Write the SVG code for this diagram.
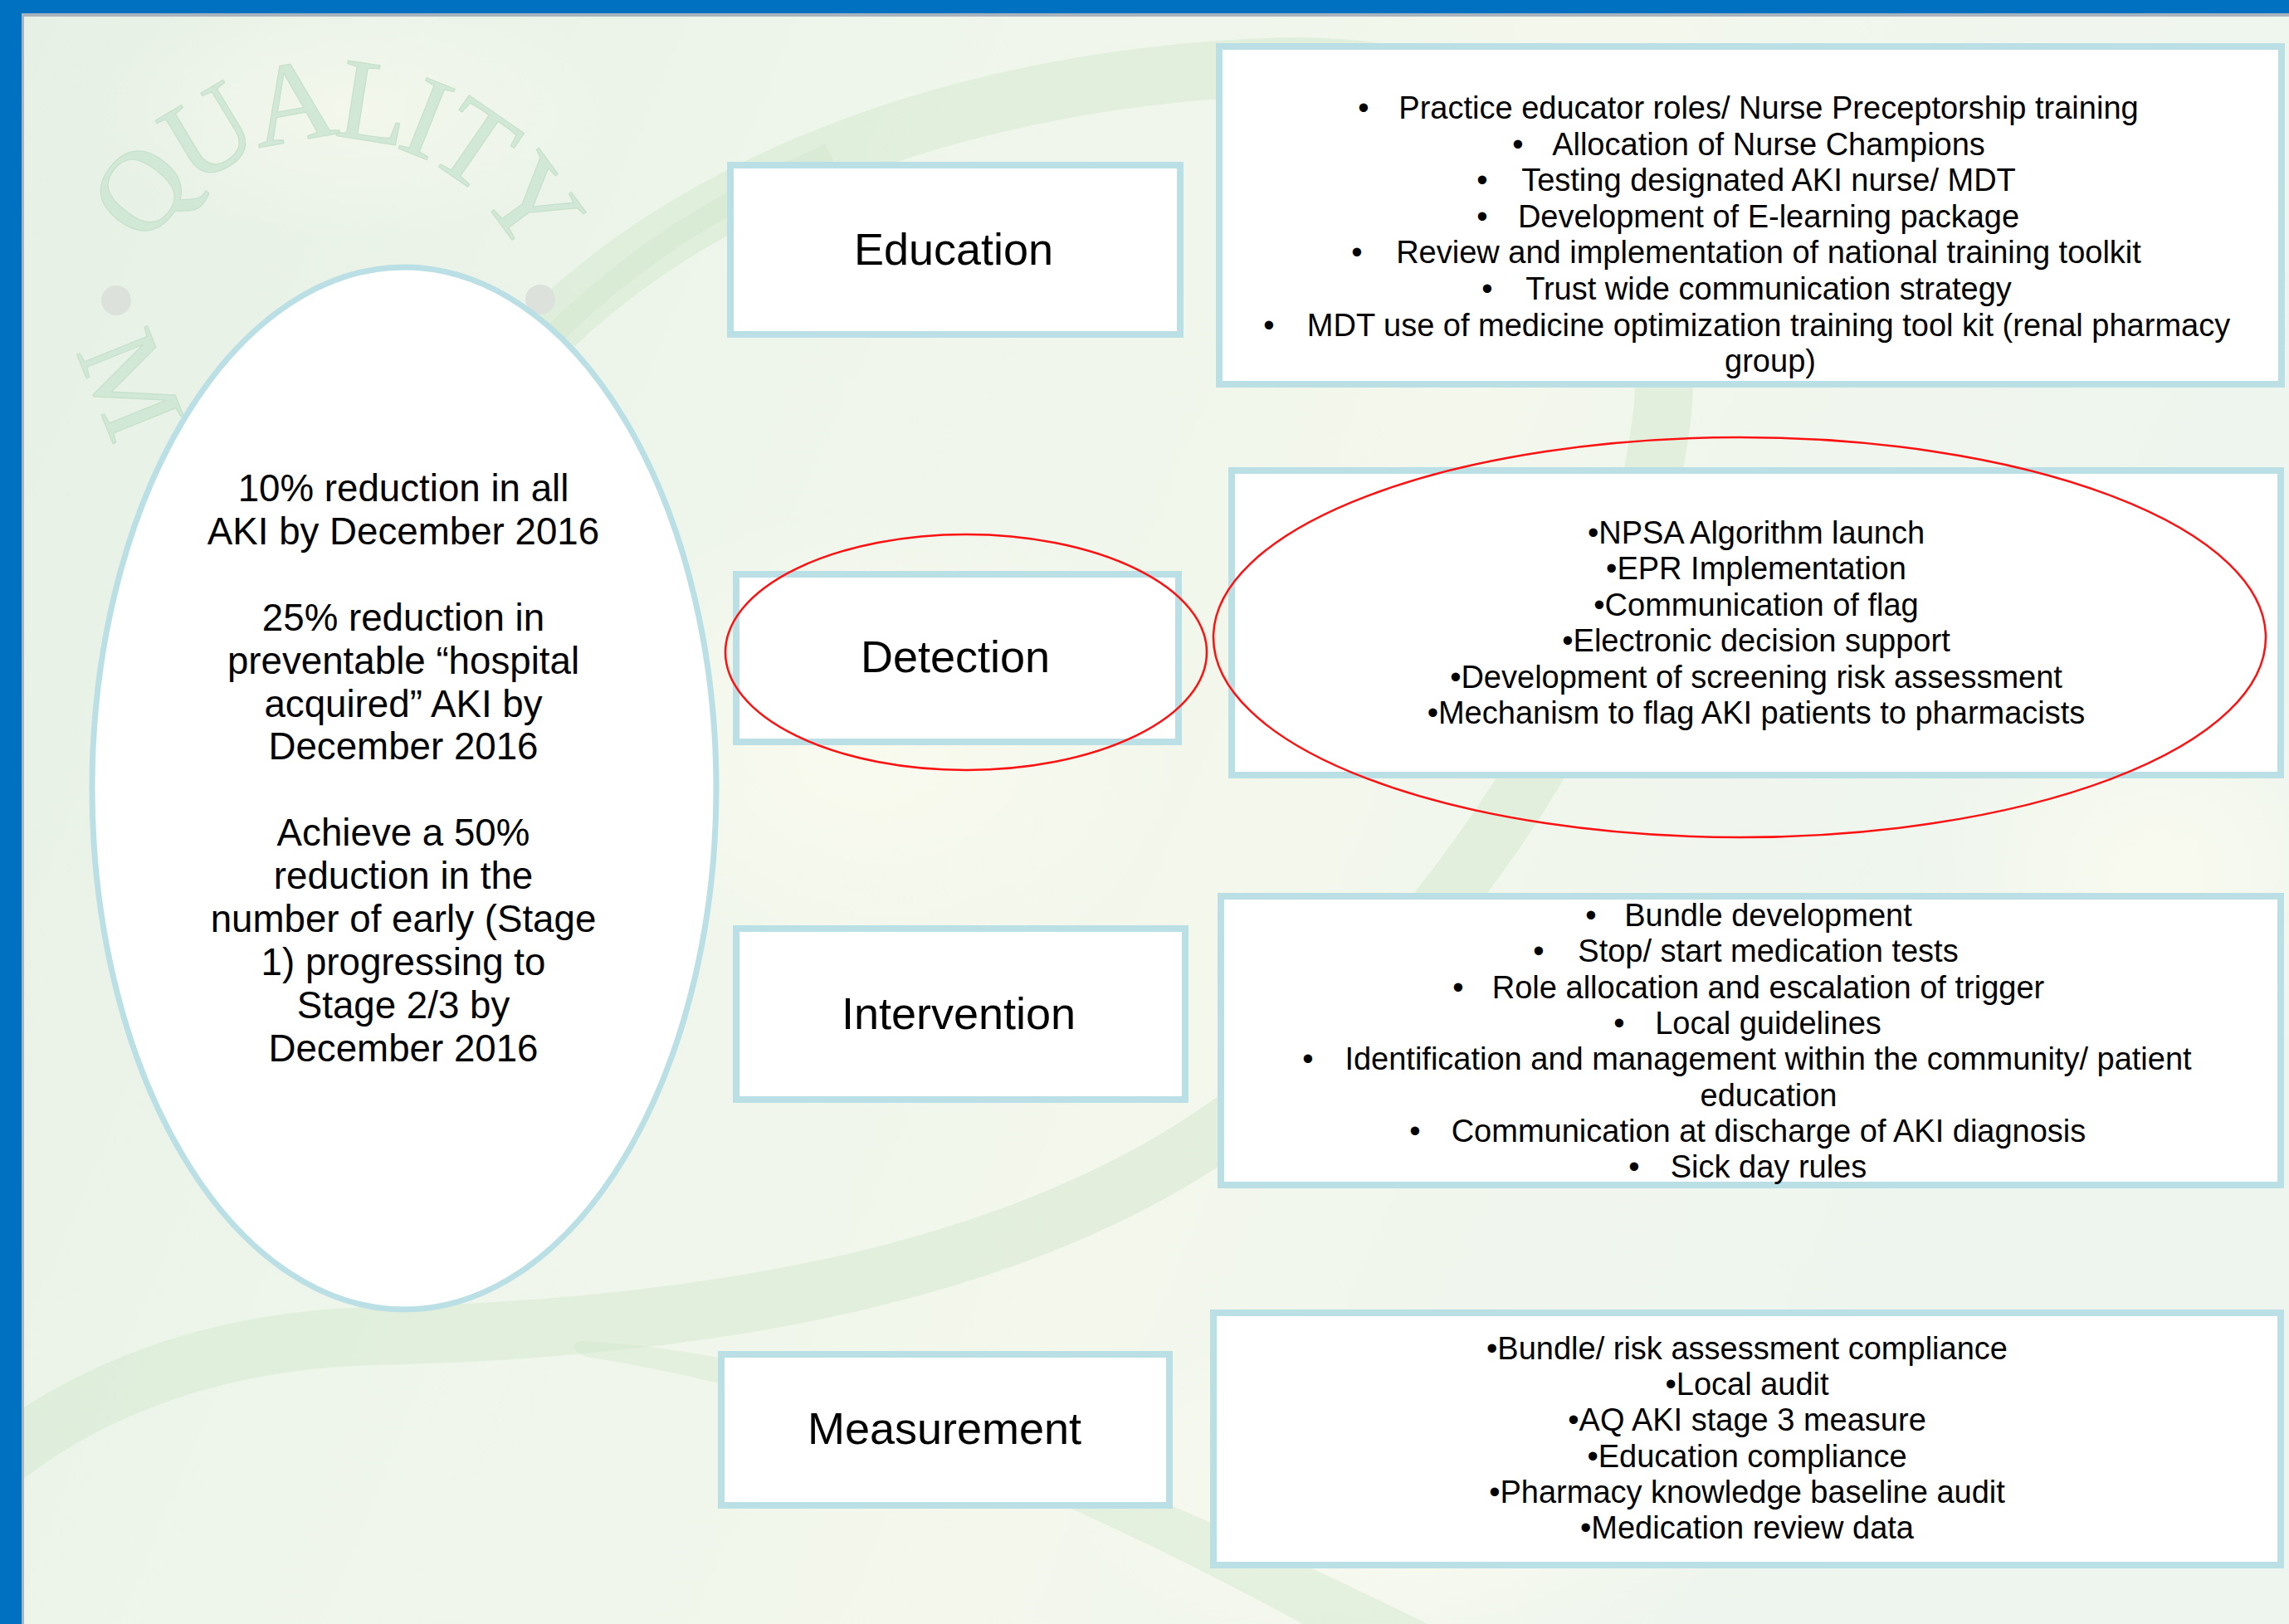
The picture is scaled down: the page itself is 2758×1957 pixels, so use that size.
<svg xmlns="http://www.w3.org/2000/svg" width="2758" height="1957" viewBox="0 0 2758 1957">
<defs>
<style>
.box{fill:#ffffff;stroke:#BADFE4;stroke-width:8}
.lbl{font-family:"Liberation Sans",Arial,sans-serif;font-size:54px;fill:#000;text-anchor:middle}
.dt{font-family:"Liberation Sans",Arial,sans-serif;font-size:38px;fill:#000;text-anchor:middle}
.goal{font-family:"Liberation Sans",Arial,sans-serif;font-size:45.7px;fill:#000;text-anchor:middle}
.red{fill:none;stroke:#FF1010;stroke-width:2.5}
.wm{font-family:"Liberation Serif","Times New Roman",serif;font-size:140px;fill:#D2E8D6;stroke:#C6E1CB;stroke-width:1.2}
.band{fill:none;stroke:#D6EAD0;stroke-linecap:butt}
</style>
<linearGradient id="bg" x1="0" y1="0" x2="1" y2="0.3">
<stop offset="0" stop-color="#E6F0E5"/>
<stop offset="0.35" stop-color="#EEF5EB"/>
<stop offset="0.65" stop-color="#F3F7EC"/>
<stop offset="1" stop-color="#EDF5EE"/>
</linearGradient>
<radialGradient id="hl" cx="0.5" cy="0.5" r="0.5">
<stop offset="0" stop-color="#FBFBEF" stop-opacity="0.9"/>
<stop offset="1" stop-color="#FBFBEF" stop-opacity="0"/>
</radialGradient>
<path id="arcQ" d="M 178.4 300.2 A 250 250 0 0 1 646.2 372.6"/>
</defs>

<g id="background">
<rect x="0" y="0" width="2758" height="1957" fill="url(#bg)"/>
<ellipse cx="1050" cy="900" rx="380" ry="300" fill="url(#hl)"/>
<ellipse cx="1700" cy="1800" rx="420" ry="220" fill="url(#hl)"/>
<ellipse cx="2600" cy="1050" rx="300" ry="260" fill="url(#hl)"/>
<ellipse cx="420" cy="130" rx="320" ry="160" fill="url(#hl)" opacity="0.6"/>
<path class="band" stroke-width="70" opacity="0.55" d="M 640 420 C 850 200, 1200 90, 1550 80 C 1850 75, 2040 250, 2000 520 C 1960 800, 1800 1050, 1550 1300 C 1300 1520, 900 1600, 450 1610 C 250 1615, 100 1680, 0 1760"/>
<path class="band" stroke-width="26" opacity="0.7" d="M 660 410 C 780 290, 900 230, 1000 185"/>
<path fill="#D6EAD0" opacity="0.5" d="M 700 1616 C 1000 1630, 1380 1790, 1720 1957 L 1570 1957 C 1300 1810, 1000 1680, 712 1636 C 690 1632, 686 1618, 700 1616 Z"/>
<text class="wm" letter-spacing="-10"><textPath href="#arcQ">QUALITY</textPath></text>
<text class="wm" x="0" y="45" text-anchor="middle" transform="translate(156,464) rotate(68)">M</text>
<circle cx="140" cy="362" r="18" fill="#DCE2DB"/>
<circle cx="651" cy="361" r="18" fill="#DCE2DB"/>
</g>

<g id="frame">
<rect x="0" y="0" width="2758" height="16" fill="#0070C0"/>
<rect x="0" y="0" width="26" height="1957" fill="#0070C0"/>
<rect x="26" y="16" width="2732" height="4" fill="#A9B3BC"/>
<rect x="26" y="16" width="3" height="1941" fill="#A9B3BC"/>
</g>

<g id="connectors"></g>

<g id="goal">
<ellipse cx="487" cy="950" rx="376" ry="628" fill="#ffffff" stroke="#BADFE4" stroke-width="7"/>
<text class="goal" x="486" y="604">10% reduction in all</text>
<text class="goal" x="486" y="655.9">AKI by December 2016</text>
<text class="goal" x="486" y="759.7">25% reduction in</text>
<text class="goal" x="486" y="811.6">preventable “hospital</text>
<text class="goal" x="486" y="863.5">acquired” AKI by</text>
<text class="goal" x="486" y="915.4">December 2016</text>
<text class="goal" x="486" y="1019.2">Achieve a 50%</text>
<text class="goal" x="486" y="1071.1">reduction in the</text>
<text class="goal" x="486" y="1123">number of early (Stage</text>
<text class="goal" x="486" y="1174.9">1) progressing to</text>
<text class="goal" x="486" y="1226.8">Stage 2/3 by</text>
<text class="goal" x="486" y="1278.7">December 2016</text>
</g>

<g id="education">
<rect class="box" x="880" y="199" width="542" height="204"/>
<text class="lbl" x="1149" y="319">Education</text>
</g>

<g id="education-detail">
<rect class="box" x="1469" y="56" width="1280" height="407"/>
<text class="dt" x="1643" y="143">•</text><text class="dt" x="2131" y="143">Practice educator roles/ Nurse Preceptorship training</text>
<text class="dt" x="1829" y="186.6">•</text><text class="dt" x="2131" y="186.6">Allocation of Nurse Champions</text>
<text class="dt" x="1786" y="230.2">•</text><text class="dt" x="2131" y="230.2">Testing designated AKI nurse/ MDT</text>
<text class="dt" x="1786" y="273.8">•</text><text class="dt" x="2131" y="273.8">Development of E-learning package</text>
<text class="dt" x="1635" y="317.4">•</text><text class="dt" x="2131" y="317.4">Review and implementation of national training toolkit</text>
<text class="dt" x="1792" y="361">•</text><text class="dt" x="2131" y="361">Trust wide communication strategy</text>
<text class="dt" x="1529" y="404.6">•</text><text class="dt" x="2131" y="404.6">MDT use of medicine optimization training tool kit (renal pharmacy</text>
<text class="dt" x="2133" y="448.2">group)</text>
</g>

<g id="detection">
<rect class="box" x="887" y="692" width="533" height="202"/>
<text class="lbl" x="1151" y="810">Detection</text>
</g>

<g id="detection-detail">
<rect class="box" x="1484" y="567" width="1264" height="367"/>
<text class="dt" x="2116" y="655">•NPSA Algorithm launch</text>
<text class="dt" x="2116" y="698.4">•EPR Implementation</text>
<text class="dt" x="2116" y="741.8">•Communication of flag</text>
<text class="dt" x="2116" y="785.2">•Electronic decision support</text>
<text class="dt" x="2116" y="828.6">•Development of screening risk assessment</text>
<text class="dt" x="2116" y="872">•Mechanism to flag AKI patients to pharmacists</text>
</g>

<g id="intervention">
<rect class="box" x="887" y="1119" width="541" height="206"/>
<text class="lbl" x="1155" y="1240">Intervention</text>
</g>

<g id="intervention-detail">
<rect class="box" x="1471" y="1080" width="1277" height="348"/>
<text class="dt" x="1917" y="1116">•</text><text class="dt" x="2130.5" y="1116">Bundle development</text>
<text class="dt" x="1854" y="1159.3">•</text><text class="dt" x="2130.5" y="1159.3">Stop/ start medication tests</text>
<text class="dt" x="1757" y="1202.6">•</text><text class="dt" x="2130.5" y="1202.6">Role allocation and escalation of trigger</text>
<text class="dt" x="1951" y="1245.9">•</text><text class="dt" x="2130.5" y="1245.9">Local guidelines</text>
<text class="dt" x="1576" y="1289.2">•</text><text class="dt" x="2130.5" y="1289.2">Identification and management within the community/ patient</text>
<text class="dt" x="2131" y="1332.5">education</text>
<text class="dt" x="1705" y="1375.8">•</text><text class="dt" x="2131" y="1375.8">Communication at discharge of AKI diagnosis</text>
<text class="dt" x="1969" y="1419.1">•</text><text class="dt" x="2131" y="1419.1">Sick day rules</text>
</g>

<g id="measurement">
<rect class="box" x="869" y="1632" width="540" height="182"/>
<text class="lbl" x="1138" y="1740">Measurement</text>
</g>

<g id="measurement-detail">
<rect class="box" x="1462" y="1582" width="1286" height="304"/>
<text class="dt" x="2105" y="1638">•Bundle/ risk assessment compliance</text>
<text class="dt" x="2105" y="1681.2">•Local audit</text>
<text class="dt" x="2105" y="1724.4">•AQ AKI stage 3 measure</text>
<text class="dt" x="2105" y="1767.6">•Education compliance</text>
<text class="dt" x="2105" y="1810.8">•Pharmacy knowledge baseline audit</text>
<text class="dt" x="2105" y="1854">•Medication review data</text>
</g>

<g id="highlights">
<ellipse class="red" cx="1164" cy="786" rx="290" ry="142"/>
<ellipse class="red" cx="2096" cy="768" rx="634" ry="241"/>
</g>
</svg>
